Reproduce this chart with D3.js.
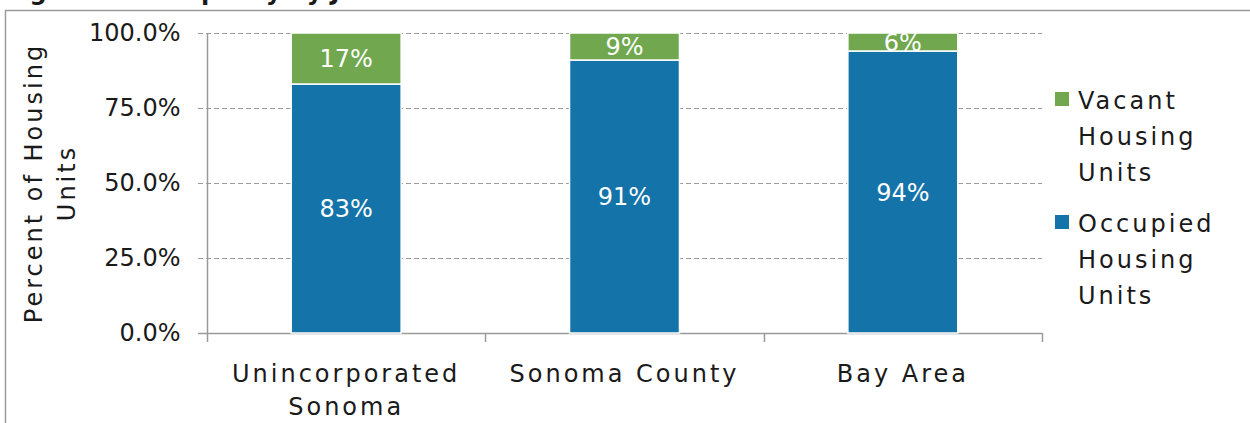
<!DOCTYPE html>
<html lang="en">

<head>
    <meta charset="utf-8">
    <title>Occupancy by Jurisdiction</title>
    <script src="https://d3js.org/d3.v7.min.js"></script>
    <style>
        body { margin: 0; background: #fff; }
        svg text { font-family: "DejaVu Sans", sans-serif; fill: #1a1a1a; }
        .word { letter-spacing: 3px; }
    </style>
</head>

<body>
    <div id="my_dataviz"></div>

    <script>
        // data
        var categories = [["Unincorporated", "Sonoma"], ["Sonoma County"], ["Bay Area"]]
        var occupied = [83, 91, 94]
        var vacant = [17, 9, 6]
        var seriesNames = [["Vacant", "Housing", "Units"], ["Occupied", "Housing", "Units"]]
        var yTicks = [0, 25, 50, 75, 100]

        var width = 1250
        height = 423
        var colors = { occupied: "#1474a9", vacant: "#71a84f" }

        var svg = d3.select("#my_dataviz")
            .append("svg")
            .attr("width", width)
            .attr("height", height)

        // cut-off title and frame
        svg.append("text")
            .attr("x", 5)
            .attr("y", 0)
            .style("font-weight", "bold")
            .style("font-size", "24px")
            .text("Figure 4: Occupancy by Jurisdiction")
        svg.append("path")
            .attr("d", "M5.5," + height + "V10.5H" + width)
            .attr("fill", "none")
            .attr("stroke", "#9a9a9a")
            .attr("stroke-width", 1.5)

        var keys = categories.map(function (c) { return c.join(" ") })

        var x = d3.scaleBand()
            .domain(keys)
            .range([207, 1042])
            .paddingInner(0.605)
            .paddingOuter(0.3025)

        var y = d3.scaleLinear()
            .domain([0, 100])
            .range([333, 33])

        // gridlines
        svg.append("g")
            .selectAll("line")
            .data(yTicks.filter(function (d) { return d > 0 }))
            .enter()
            .append("line")
            .attr("x1", 198)
            .attr("x2", 1042)
            .attr("y1", function (d) { return Math.round(y(d)) + 0.5 })
            .attr("y2", function (d) { return Math.round(y(d)) + 0.5 })
            .attr("stroke", "#9a9a9a")
            .attr("stroke-width", 1.2)
            .attr("stroke-dasharray", "5,3")

        // y axis
        var yAxis = svg.append("g")
            .attr("transform", "translate(207.5,0)")
            .call(d3.axisLeft(y).tickValues(yTicks).tickSize(0).tickPadding(27)
                .tickFormat(function (d) { return d3.format(".1f")(d) + "%" }))
        yAxis.select(".domain").remove()
        yAxis.selectAll("text")
            .style("font-size", "24px")
            .style("font-family", "DejaVu Sans")
            .attr("fill", "#1a1a1a")
        svg.append("line")
            .attr("x1", 207.5).attr("x2", 207.5)
            .attr("y1", 33).attr("y2", 342)
            .attr("stroke", "#9a9a9a").attr("stroke-width", 1.5)

        // x axis line + category ticks
        svg.append("line")
            .attr("x1", 198).attr("x2", 1042)
            .attr("y1", 333.5).attr("y2", 333.5)
            .attr("stroke", "#9a9a9a").attr("stroke-width", 1.5)
        var bounds = keys.map(function (k) { return x(k) - x.step() * x.paddingInner() / 2 })
        bounds.push(1042)
        svg.append("g")
            .selectAll("line")
            .data(bounds.slice(1))
            .enter()
            .append("line")
            .attr("x1", function (d) { return Math.round(d) + 0.5 })
            .attr("x2", function (d) { return Math.round(d) + 0.5 })
            .attr("y1", 333)
            .attr("y2", 342)
            .attr("stroke", "#9a9a9a").attr("stroke-width", 1.5)

        // stacked bars
        var rows = keys.map(function (k, i) { return { key: k, occupied: occupied[i], vacant: vacant[i] } })
        var stacked = d3.stack().keys(["occupied", "vacant"])(rows)

        var layer = svg.append("g")
            .selectAll("g")
            .data(stacked)
            .enter()
            .append("g")
            .attr("fill", function (d) { return colors[d.key] })

        layer.selectAll("rect")
            .data(function (d) { return d })
            .enter()
            .append("rect")
            .attr("x", function (d) { return x(d.data.key) })
            .attr("width", x.bandwidth())
            .attr("y", function (d) { return y(Math.min(d[1], 100)) })
            .attr("height", function (d) { return y(d[0]) - y(Math.min(d[1], 100)) })
            .attr("stroke", "#fff")
            .attr("stroke-width", 1.5)

        layer.selectAll("text")
            .data(function (d) { return d })
            .enter()
            .append("text")
            .attr("x", function (d) { return x(d.data.key) + x.bandwidth() / 2 })
            .attr("y", function (d) { return (y(d[0]) + y(Math.min(d[1], 100))) / 2 })
            .attr("dy", "0.36em")
            .attr("text-anchor", "middle")
            .style("font-size", "24px")
            .style("fill", "#fff")
            .text(function (d) { return Math.round(d[1] - d[0]) + "%" })

        // category labels
        var catLabels = svg.append("g")
            .selectAll("text")
            .data(categories)
            .enter()
            .append("text")
            .attr("class", "word")
            .attr("text-anchor", "middle")
            .style("font-size", "24px")
            .attr("transform", function (d, i) { return "translate(" + (x(keys[i]) + x.bandwidth() / 2) + ",382)" })
        catLabels.selectAll("tspan")
            .data(function (d) { return d })
            .enter()
            .append("tspan")
            .attr("x", 0)
            .attr("dy", function (d, i) { return i == 0 ? 0 : 33 })
            .text(function (d) { return d })

        // y axis title
        svg.append("text")
            .attr("class", "word")
            .attr("text-anchor", "middle")
            .style("font-size", "24px")
            .attr("transform", "translate(42,183) rotate(-90)")
            .selectAll("tspan")
            .data(["Percent of Housing", "Units"])
            .enter()
            .append("tspan")
            .attr("x", 0)
            .attr("dy", function (d, i) { return i == 0 ? 0 : 33 })
            .text(function (d) { return d })

        // legend
        var legend = svg.append("g")
            .selectAll("g")
            .data(seriesNames)
            .enter()
            .append("g")
            .attr("transform", function (d, i) { return "translate(1055," + (92 + i * 123) + ")" })
        legend.append("rect")
            .attr("width", 14)
            .attr("height", 14)
            .attr("fill", function (d, i) { return i == 0 ? colors.vacant : colors.occupied })
        legend.append("text")
            .attr("class", "word")
            .style("font-size", "24px")
            .attr("transform", "translate(23,17)")
            .selectAll("tspan")
            .data(function (d) { return d })
            .enter()
            .append("tspan")
            .attr("x", 0)
            .attr("dy", function (d, i) { return i == 0 ? 0 : 36 })
            .text(function (d) { return d })
    </script>

</body>

</html>
